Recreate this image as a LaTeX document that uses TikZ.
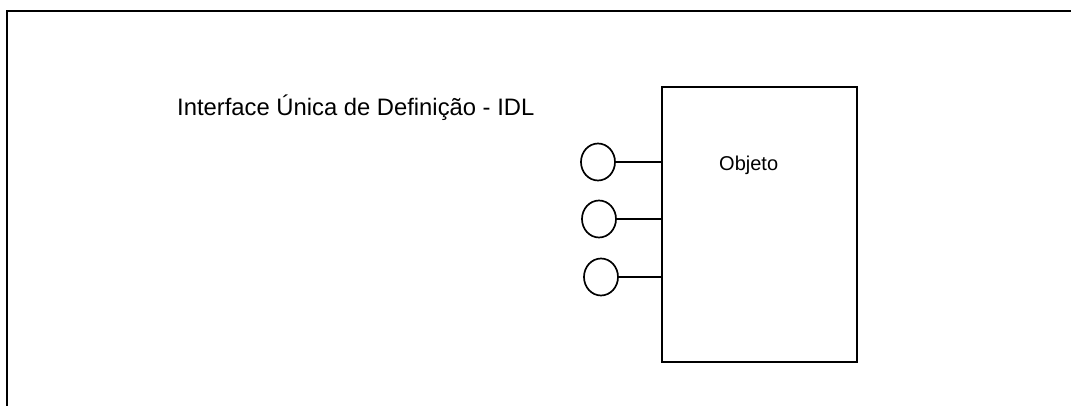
\documentclass[tikz,border=0pt]{standalone}
\usepackage{fontspec}
\setmainfont{Liberation Sans}
\usetikzlibrary{shapes.geometric}
\begin{document}
\begin{tikzpicture}[x=1pt,y=-1pt,
  frameline/.style={line width=2.2pt},
  objbox/.style={draw,line width=2pt,minimum width=195pt,minimum height=275pt,inner sep=0pt},
  port/.style={draw,ellipse,line width=1.7pt,minimum width=34pt,minimum height=37pt,inner sep=0pt},
  link/.style={line width=1.7pt},
  lbl/.style={inner sep=0pt,anchor=base west}]
\useasboundingbox (0,0) rectangle (1071,406);
\coordinate (fl) at (7,406);
\coordinate (ftl) at (7,11);
\coordinate (ftr) at (1071,11);
\draw[frameline] (fl) -- (ftl) -- (ftr);
\node[objbox] (obj) at (759.5,224.5) {};
\node[port] (p1) at (598,162) {};
\node[port] (p2) at (599,219) {};
\node[port] (p3) at (601,277) {};
\draw[link] (p1.east) -- (p1.east -| obj.west);
\draw[link] (p2.east) -- (p2.east -| obj.west);
\draw[link] (p3.east) -- (p3.east -| obj.west);
\node[lbl,font=\fontsize{23.8pt}{28pt}\selectfont] (title) at (177,115.5) {Interface Única de Definição - IDL};
\node[lbl,font=\fontsize{20pt}{24pt}\selectfont] (objlbl) at (719,171) {Objeto};
\end{tikzpicture}
\end{document}
